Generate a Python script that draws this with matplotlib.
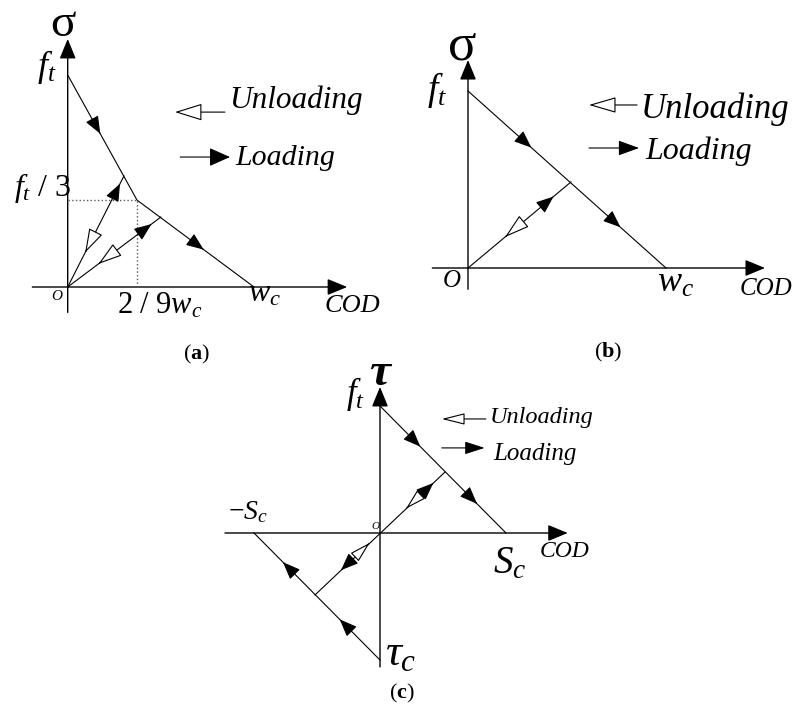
import numpy as np
import matplotlib.pyplot as plt
from matplotlib.patches import FancyArrowPatch

W, H = 798, 708

# panel (a): bilinear softening law, f_t = 1 and w_c = 1 (as drawn)
a_soft_x = [0, 0.372, 1]
a_soft_y = [1, 0.41, 0]
a_unload_x = [0.302, 0.50]   # end points of the two unloading paths
a_unload_y = [0.524, 0.33]

# panel (b): linear softening
b_soft_x = [0, 1]
b_soft_y = [1, 0]
b_unload = (0.52, 0.486)

# panel (c): shear, f_t / S_c / tau_c normalised to 1
c_upper_x = [0, 1]
c_upper_y = [1, 0]
c_lower_x = [-1, 0]
c_lower_y = [0, -1]
c_unload_x = [-0.516, 0.516]
c_unload_y = [-0.488, 0.48]

plt.rcParams['mathtext.fontset'] = 'custom'
plt.rcParams['mathtext.it'] = 'Liberation Serif:italic'
plt.rcParams['mathtext.rm'] = 'Liberation Serif'
plt.rcParams['mathtext.bf'] = 'Liberation Serif:bold'
plt.rcParams['font.family'] = ['Liberation Serif', 'DejaVu Serif']

fig = plt.figure(figsize=(W / 100, H / 100), dpi=100)


def panel(ox, oy, sx, sy, xlim, ylim):
    # ox, oy = pixel position of the origin, sx, sy = pixels per unit
    left, right = ox + xlim[0] * sx, ox + xlim[1] * sx
    top, bottom = oy - ylim[1] * sy, oy - ylim[0] * sy
    ax = fig.add_axes([left / W, 1 - bottom / H, (right - left) / W, (bottom - top) / H])
    ax.set_xlim(xlim)
    ax.set_ylim(ylim)
    ax.axis('off')
    return ax


def arrow(ax, p0, p1, length, half, filled=True, lw=0.8, z=3):
    style = f'-|>,head_length={length * 0.72:.2f},head_width={half * 0.72:.2f}'
    ax.add_patch(FancyArrowPatch(p0, p1, arrowstyle=style, mutation_scale=1, lw=lw,
                                 ec='k', fc='k' if filled else 'w',
                                 shrinkA=0, shrinkB=0, zorder=z, clip_on=False))


def head(ax, p0, p1, t, length=15, half=6, filled=True):
    # arrow head with its tip at fraction t of the segment p0 -> p1
    p0, p1 = np.array(p0, float), np.array(p1, float)
    tip = p0 + t * (p1 - p0)
    arrow(ax, tip - 0.01 * (p1 - p0), tip, length, half, filled)


def axes_lines(ax, x0, x1, y0, y1, lw=1.0):
    arrow(ax, (x0, 0), (x1, 0), 17, 7, lw=lw, z=2)
    arrow(ax, (0, y0), (0, y1), 17, 7, lw=lw, z=2)


def label(x, y, s, size, ha='center', va='baseline', **kw):
    fig.text(x / W, 1 - y / H, s, fontsize=size, ha=ha, va=va, **kw)


def plot(ax, x, y, **kw):
    ax.plot(x, y, color='k', lw=0.8, clip_on=False, **kw)


# ---------------- (a) ----------------
ax = panel(67.7, 287, 186.3, 212, (-0.3, 1.6), (-0.3, 1.25))
axes_lines(ax, -0.19, 1.50, -0.12, 1.17)
plot(ax, a_soft_x, a_soft_y)
kx, ky = a_soft_x[1], a_soft_y[1]
ax.plot([0, kx, kx], [ky, ky, 0], color='0.35', lw=1.0, ls=':', clip_on=False)
for ux, uy in zip(a_unload_x, a_unload_y):
    plot(ax, [0, ux], [0, uy])
head(ax, (0, 1), (kx, ky), 0.47)
head(ax, (kx, ky), (1, 0), 0.57)
head(ax, (0, 0), (a_unload_x[0], a_unload_y[0]), 0.93)
head(ax, (0, 0), (a_unload_x[1], a_unload_y[1]), 0.90)
head(ax, (a_unload_x[0], a_unload_y[0]), (0, 0), 0.69, 21, 6.5, filled=False)
head(ax, (a_unload_x[1], a_unload_y[1]), (0, 0), 0.67, 21, 6.5, filled=False)
arrow(ax, (0.844, 0.825), (0.576, 0.825), 24, 7.5, filled=False)
arrow(ax, (0.604, 0.613), (0.871, 0.613), 18, 8)

label(63, 3, r'$\mathrm{σ}$', 34, va='top')
label(47, 76, r'$f_t$', 26)
label(42, 196, r'$f_t\ /\ 3$', 23)
label(57, 300, 'O', 11, style='italic')
label(117, 313, r'$2\ /\ 9w_c$', 22, ha='left')
label(248, 302, r'$w_c$', 23, ha='left')
label(325, 312, 'COD', 19, ha='left', style='italic')
label(229, 108, 'Unloading', 22.5, ha='left', style='italic')
label(235, 165, 'Loading', 21.5, ha='left', style='italic')
label(197, 359, r'$(\mathbf{a})$', 16)

# ---------------- (b) ----------------
ax = panel(468, 268, 198, 177, (-0.3, 1.65), (-0.3, 1.35))
axes_lines(ax, -0.18, 1.50, -0.12, 1.175)
plot(ax, b_soft_x, b_soft_y)
plot(ax, [0, b_unload[0]], [0, b_unload[1]])
head(ax, (0, 1), (1, 0), 0.32)
head(ax, (0, 1), (1, 0), 0.77)
head(ax, (0, 0), b_unload, 0.83)
head(ax, b_unload, (0, 0), 0.64, 22, 6.5, filled=False)
arrow(ax, (0.854, 0.921), (0.611, 0.921), 24, 7, filled=False)
arrow(ax, (0.611, 0.678), (0.864, 0.678), 18, 6.5)

label(462, 59, r'$\mathrm{σ}$', 38)
label(437, 100, r'$f_t$', 27)
label(452, 287, 'O', 18, style='italic')
label(657, 292, r'$w_c$', 26, ha='left')
label(740, 295, 'COD', 18, ha='left', style='italic')
label(641, 118, 'Unloading', 25, ha='left', style='italic')
label(645, 159, 'Loading', 23, ha='left', style='italic')
label(608, 357, r'$(\mathbf{b})$', 16)

# ---------------- (c) ----------------
ax = panel(380, 533, 126, 127, (-1.4, 1.65), (-1.2, 1.3))
axes_lines(ax, -1.23, 1.49, -1.055, 1.15)
plot(ax, c_upper_x, c_upper_y)
plot(ax, c_lower_x, c_lower_y)
plot(ax, c_unload_x, c_unload_y)
head(ax, (0, 1), (1, 0), 0.32)
head(ax, (0, 1), (1, 0), 0.77)
head(ax, (0, -1), (-1, 0), 0.32)
head(ax, (0, -1), (-1, 0), 0.77)
p_lo = (c_unload_x[0], c_unload_y[0])
p_hi = (c_unload_x[1], c_unload_y[1])
head(ax, (0, 0), p_hi, 0.82)
head(ax, p_hi, (0, 0), 0.60, 18, 5, filled=False)
head(ax, p_lo, (0, 0), 0.84, 18, 5, filled=False)
head(ax, (0, 0), p_lo, 0.60)
arrow(ax, (0.84, 0.898), (0.49, 0.898), 20, 5, filled=False)
arrow(ax, (0.49, 0.67), (0.83, 0.67), 17, 5.5)

label(380, 385, 'τ', 34, style='italic', weight='bold')
label(355, 403, r'$f_t$', 25)
label(375, 529, 'O', 8, style='italic')
label(228, 519, r'$-S_c$', 20, ha='left')
label(493, 573, r'$S_c$', 28, ha='left')
label(540, 557, 'COD', 17, ha='left', style='italic')
label(385, 665, r'$\tau_c$', 32, ha='left', weight='bold')
label(490, 423, 'Unloading', 17.5, ha='left', style='italic')
label(493, 460, 'Loading', 18, ha='left', style='italic')
label(402, 698, r'$(\mathbf{c})$', 16)

fig.savefig('out.png', dpi=100)
